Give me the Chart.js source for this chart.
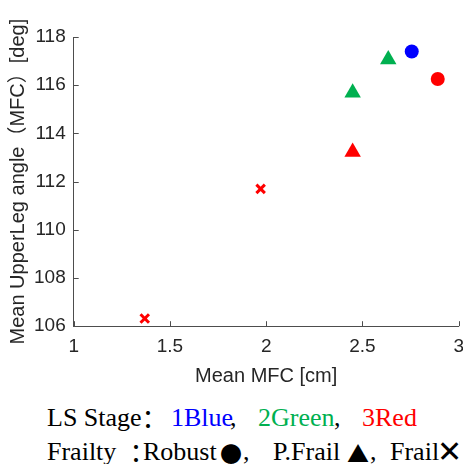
<!DOCTYPE html>
<html>
<head>
<meta charset="utf-8">
<script src="https://cdn.jsdelivr.net/npm/chart.js@4"></script>
<style>
  html, body { margin: 0; padding: 0; background: #fff; }
  #wrap { position: relative; width: 463px; height: 464px; overflow: hidden; }
  #box { position: absolute; left: 0; top: 0; width: 473px; height: 392px; }
  .note { position: absolute; font-family: 'Liberation Serif', 'Times New Roman', serif;
          font-size: 26px; white-space: pre; color: #000; line-height: 30px; }
  .sym { font-family: 'Noto Sans CJK JP', 'DejaVu Sans', sans-serif; }
  .mark { font-family: 'Noto Sans CJK JP', 'DejaVu Sans', sans-serif; font-size: 22px; }
  .xmark { font-family: 'DejaVu Sans', sans-serif; font-size: 30px; font-weight: bold; }
  .r1 { top: 403px; }
  .r2 { top: 437px; }
</style>
</head>
<body>
<div id="wrap">
  <div id="box"><canvas id="chart"></canvas></div>
  <span class="note r1" style="left:47px">LS Stage</span>
  <span class="note r1 sym" style="left:135px">：</span>
  <span class="note r1" style="left:171px;color:#0000ff">1Blue</span>
  <span class="note r1" style="left:230px">,</span>
  <span class="note r1" style="left:258px;color:#00b050">2Green</span>
  <span class="note r1" style="left:334px">,</span>
  <span class="note r1" style="left:362px;color:#ff0000">3Red</span>
  <span class="note r2" style="left:47px">Frailty</span>
  <span class="note r2 sym" style="left:123px">：</span>
  <span class="note r2" style="left:143px">Robust</span>
  <span class="note r2 mark" style="left:220px">●</span>
  <span class="note r2" style="left:243px">,</span>
  <span class="note r2" style="left:273px">P.Frail</span>
  <span class="note r2 mark" style="left:347px">▲</span>
  <span class="note r2" style="left:370px">,</span>
  <span class="note r2" style="left:390px">Frail</span>
  <span class="note r2 xmark" style="left:437px">✕</span>
</div>
<script>
// Mean MFC [cm] vs mean upper leg angle at MFC [deg]
const xTicks = [1, 1.5, 2, 2.5, 3];
const yTicks = [106, 108, 110, 112, 114, 116, 118];

// LS stage 1 (blue)
const stage1RobustX = [2.756];
const stage1RobustY = [117.40];
// LS stage 2 (green)
const stage2PFrailX = [2.449, 2.634];
const stage2PFrailY = [115.69, 117.07];
// LS stage 3 (red)
const stage3RobustX = [2.891];
const stage3RobustY = [116.26];
const stage3PFrailX = [2.449];
const stage3PFrailY = [113.23];
const stage3FrailX = [1.971, 1.369];
const stage3FrailY = [111.70, 106.32];

const BLUE = '#0000ff';
const GREEN = '#00b050';
const RED = '#ff0000';
const AXIS = '#4d4d4d';
const TEXT = '#262626';

function pts(xs, ys) {
    return xs.map((x, i) => ({ x: x, y: ys[i] }));
}

// MATLAB style ticks pointing into the plot
const innerTicks = {
    id: 'innerTicks',
    afterDraw(chart) {
        const ctx = chart.ctx;
        const xs = chart.scales.x;
        const ys = chart.scales.y;
        const a = chart.chartArea;
        ctx.save();
        ctx.strokeStyle = AXIS;
        ctx.lineWidth = 1;
        xs.ticks.forEach(t => {
            const p = Math.round(xs.getPixelForValue(t.value)) + 0.5;
            ctx.beginPath();
            ctx.moveTo(p, a.bottom);
            ctx.lineTo(p, a.bottom - 5);
            ctx.stroke();
        });
        ys.ticks.forEach(t => {
            const p = Math.round(ys.getPixelForValue(t.value)) + 0.5;
            ctx.beginPath();
            ctx.moveTo(a.left, p);
            ctx.lineTo(a.left + 5, p);
            ctx.stroke();
        });
        ctx.restore();
    }
};

const tickFont = { family: "'Liberation Sans', Arial, sans-serif", size: 19 };
const titleFont = { family: "'Liberation Sans', Arial, 'Noto Sans CJK JP', sans-serif", size: 20 };

new Chart(document.getElementById('chart'), {
    type: 'scatter',
    data: {
        datasets: [
            { label: '1 Robust', data: pts(stage1RobustX, stage1RobustY), pointStyle: 'circle',
              pointRadius: 7, backgroundColor: BLUE, borderWidth: 0 },
            { label: '2 P.Frail', data: pts(stage2PFrailX, stage2PFrailY), pointStyle: 'triangle',
              pointRadius: 9.5, backgroundColor: GREEN, borderWidth: 0 },
            { label: '3 Robust', data: pts(stage3RobustX, stage3RobustY), pointStyle: 'circle',
              pointRadius: 7, backgroundColor: RED, borderWidth: 0 },
            { label: '3 P.Frail', data: pts(stage3PFrailX, stage3PFrailY), pointStyle: 'triangle',
              pointRadius: 9.5, backgroundColor: RED, borderWidth: 0 },
            { label: '3 Frail', data: pts(stage3FrailX, stage3FrailY), pointStyle: 'crossRot',
              pointRadius: 6, borderColor: RED, borderWidth: 3 }
        ]
    },
    options: {
        responsive: true,
        maintainAspectRatio: false,
        animation: false,
        layout: { padding: { top: 37, right: 0, bottom: 0, left: 6 } },
        plugins: { legend: { display: false }, tooltip: { enabled: false } },
        scales: {
            x: {
                type: 'linear', min: 1, max: 3,
                afterBuildTicks: s => { s.ticks = xTicks.map(v => ({ value: v })); },
                ticks: { font: tickFont, color: TEXT, padding: 9, callback: v => String(v) },
                grid: { display: false, drawTicks: false },
                border: { display: true, color: AXIS, width: 1 },
                title: { display: true, text: 'Mean MFC [cm]', font: titleFont, color: TEXT,
                         padding: { top: -3, bottom: 4 } }
            },
            y: {
                type: 'linear', min: 106, max: 118,
                afterBuildTicks: s => { s.ticks = yTicks.map(v => ({ value: v })); },
                ticks: { font: tickFont, color: TEXT, padding: 8, callback: v => String(v) },
                grid: { display: false, drawTicks: false },
                border: { display: true, color: AXIS, width: 1 },
                title: { display: true, text: 'Mean UpperLeg angle（MFC）[deg]', font: titleFont, color: TEXT,
                         padding: { top: 0, bottom: -4 } }
            }
        }
    },
    plugins: [innerTicks]
});
</script>
</body>
</html>
